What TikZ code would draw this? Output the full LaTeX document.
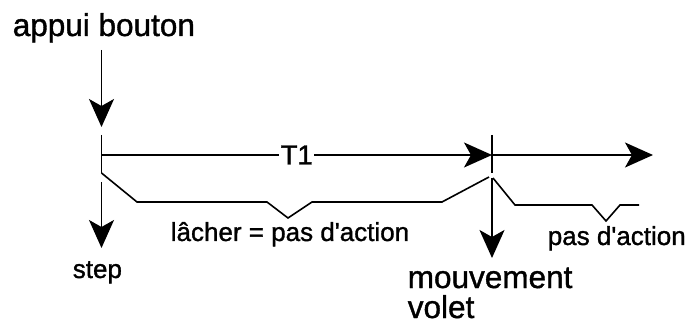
\documentclass[tikz,border=0pt]{standalone}
\usepackage{fontspec}
\setmainfont[FakeBold=1.2]{Liberation Sans}
\usetikzlibrary{arrows.meta}

\begin{document}
\begin{tikzpicture}[x=1pt,y=-1pt,line width=1.6pt,
  evt/.style={-{Stealth[length=28pt,width=25pt,inset=7pt]}},
  big/.style={font=\fontsize{31.5}{30}\selectfont,anchor=base west,inner sep=0pt},
  small/.style={font=\fontsize{26}{30}\selectfont,anchor=base west,inner sep=0pt}]
  \useasboundingbox (0,0) rectangle (689,326);
  % instants
  \coordinate (p0) at (101.5,155);
  \coordinate (m0) at (492,155);
  \coordinate (fin) at (653,155);
  % texts
  \node[big] (appui) at (12,36) {appui bouton};
  \node[small] (step) at (72,278) {step};
  \node[small] (lacher) at (170,241) {lâcher = pas d\textquotesingle action};
  \node[small] (pas) at (547,245) {pas d\textquotesingle action};
  \node[big] (mouv) at (407,288) {mouvement};
  \node[big] (volet) at (407,318) {volet};
  % time axis
  \draw[evt] (p0) -- node[fill=white,inner sep=1.5pt,font=\fontsize{27.5}{30}\selectfont] (T1) {T1} (m0);
  \draw[evt] (m0) -- (fin);
  \draw ([yshift=20pt]p0) -- ([yshift=-18pt]p0);
  \draw ([yshift=20pt]m0) -- ([yshift=-18pt]m0);
  % events
  \draw[evt] ([yshift=105pt]p0) -- ([yshift=28pt]p0);
  \draw[evt] ([yshift=-27pt]p0) -- ([yshift=-93pt]p0);
  \draw[evt] ([yshift=-23pt]m0) -- ([yshift=-103pt]m0);
  % button signal
  \draw (101.5,173) -- (137,202) -- (267,202) -- (288,218) -- (312,202) -- (442,202) -- (489,177);
  \draw (493,178) -- (515,205) -- (592,205) -- (606,221) -- (620,205) -- (639,205);
\end{tikzpicture}
\end{document}
